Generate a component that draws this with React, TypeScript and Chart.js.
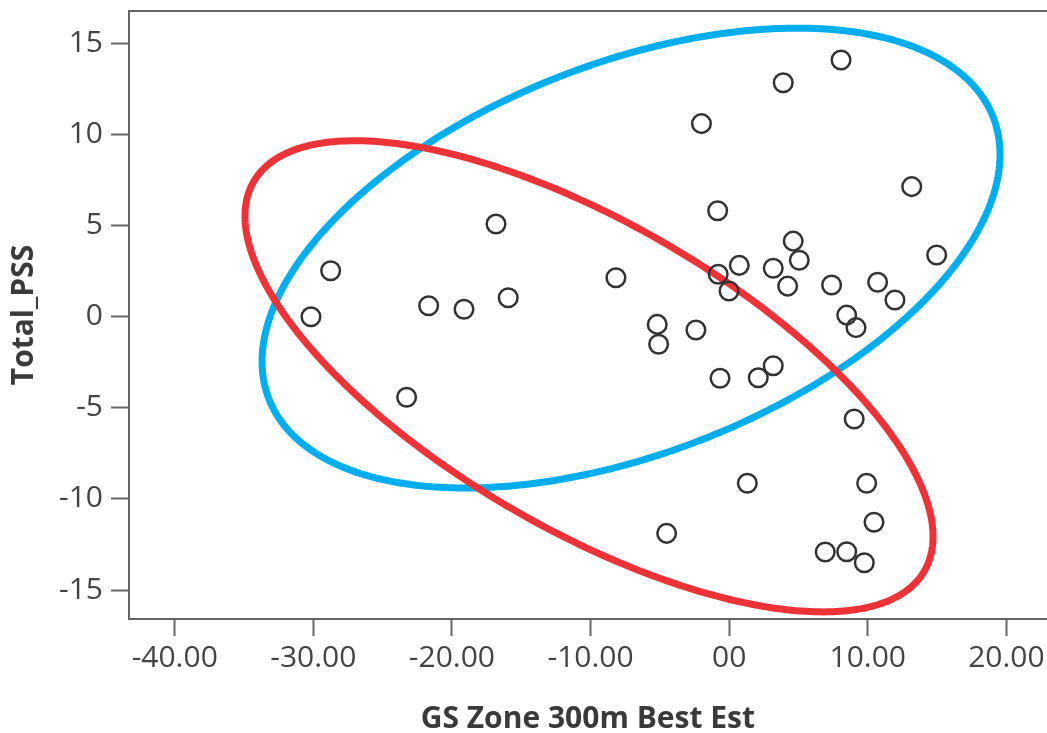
import { useEffect, useRef } from "react";
import { Chart, registerables } from "chart.js";

Chart.register(...registerables);

// ---- data ----
const gsZone: number[] = [
  -30.17, -28.75, -23.27, -21.68, -19.13, -16.82, -15.94, -8.17, -5.19, -5.09,
  -4.51, -2.4, -2.0, -0.83, -0.79, -0.66, -0.01, 0.73, 1.31, 2.1,
  3.18, 3.18, 3.9, 4.22, 4.62, 5.06, 6.93, 7.39, 8.07, 8.48,
  8.48, 9.02, 9.15, 9.75, 9.92, 10.45, 10.71, 11.96, 13.17, 14.97,
];
const totalPss: number[] = [
  0.0, 2.52, -4.42, 0.6, 0.41, 5.09, 1.04, 2.14, -0.42, -1.51,
  -11.89, -0.73, 10.6, 5.82, 2.33, -3.38, 1.41, 2.82, -9.14, -3.35,
  2.66, -2.69, 12.84, 1.68, 4.15, 3.1, -12.91, 1.74, 14.09, -12.9,
  0.09, -5.61, -0.6, -13.5, -9.14, -11.28, 1.89, 0.92, 7.14, 3.39,
];

const xTickValues: number[] = [-40, -30, -20, -10, 0, 10, 20];
const xTickLabels: string[] = ["-40.00", "-30.00", "-20.00", "-10.00", "00", "10.00", "20.00"];
const yTickValues: number[] = [-15, -10, -5, 0, 5, 10, 15];
const yTickLabels: string[] = ["-15", "-10", "-5", "0", "5", "10", "15"];

// ellipses (data units): centre, half extents, correlation
const ellipseCenterX: number[] = [-7.08, -10.11];
const ellipseCenterY: number[] = [3.22, -3.27];
const ellipseHalfX: number[] = [26.62, 24.82];
const ellipseHalfY: number[] = [12.62, 12.93];
const ellipseCorr: number[] = [0.45, -0.68];
const ellipseColors: string[] = ["#00AEEF", "#EE3338"];

const FONT = "'Open Sans', 'DejaVu Sans', sans-serif";

const ellipsePlugin = {
  id: "ellipses",
  beforeDatasetsDraw(chart: any) {
    const { ctx, chartArea, scales } = chart;
    const xs = scales.x;
    const ys = scales.y;
    ctx.save();
    // top frame line
    ctx.strokeStyle = "#666";
    ctx.lineWidth = 2;
    ctx.beginPath();
    ctx.moveTo(chartArea.left, chartArea.top);
    ctx.lineTo(chartArea.right, chartArea.top);
    ctx.stroke();
    ctx.lineWidth = 7;
    ctx.lineJoin = "round";
    for (let i = 0; i < ellipseCenterX.length; i++) {
      const cx = ellipseCenterX[i];
      const cy = ellipseCenterY[i];
      const rx = ellipseHalfX[i];
      const ry = ellipseHalfY[i];
      const r = ellipseCorr[i];
      const s = Math.sqrt(1 - r * r);
      const n = 360;
      ctx.beginPath();
      for (let k = 0; k <= n; k++) {
        const t = (k / n) * Math.PI * 2;
        const vx = cx + rx * Math.cos(t);
        const vy = cy + ry * (r * Math.cos(t) + s * Math.sin(t));
        const px = xs.getPixelForValue(vx);
        const py = ys.getPixelForValue(vy);
        if (k === 0) ctx.moveTo(px, py);
        else ctx.lineTo(px, py);
      }
      ctx.closePath();
      ctx.strokeStyle = ellipseColors[i];
      ctx.stroke();
    }
    ctx.restore();
  },
};

export default function App() {
  const canvasRef = useRef<HTMLCanvasElement | null>(null);

  useEffect(() => {
    document.body.style.margin = "0";
    const canvas = canvasRef.current;
    if (!canvas) return;
    const points = gsZone.map((x, i) => ({ x, y: totalPss[i] }));
    const chart = new Chart(canvas, {
      type: "scatter",
      data: {
        datasets: [
          {
            data: points,
            pointStyle: "circle",
            pointRadius: 9.3,
            pointBorderWidth: 2.5,
            pointBorderColor: "#333333",
            pointBackgroundColor: "rgba(0,0,0,0)",
          },
        ],
      },
      options: {
        responsive: false,
        animation: false,
        devicePixelRatio: 1,
        layout: { autoPadding: false, padding: { top: 11, left: 0, right: 0, bottom: 0 } },
        plugins: { legend: { display: false }, tooltip: { enabled: false } },
        scales: {
          x: {
            type: "linear",
            min: -43.32,
            max: 22.93,
            afterBuildTicks: (s: any) => {
              s.ticks = xTickValues.map((v) => ({ value: v }));
            },
            afterFit: (s: any) => {
              s.height = 114;
              s.paddingLeft = 0;
              s.paddingRight = 0;
              s.paddingTop = 0;
              s.paddingBottom = 0;
            },
            grid: { drawOnChartArea: false, drawTicks: true, tickLength: 17, tickColor: "#666", tickWidth: 2 },
            border: { display: true, color: "#666", width: 2 },
            ticks: {
              padding: 4,
              color: "#444",
              maxRotation: 0,
              autoSkip: false,
              font: { family: FONT, size: 30 },
              callback: (_v: any, i: number) => xTickLabels[i],
            },
            title: {
              display: true,
              text: "GS Zone 300m Best Est",
              color: "#3a3a3a",
              font: { family: FONT, size: 30, weight: "bold" },
              padding: { top: 0, bottom: -4 },
            },
          },
          y: {
            type: "linear",
            min: -16.59,
            max: 16.78,
            afterBuildTicks: (s: any) => {
              s.ticks = yTickValues.map((v) => ({ value: v }));
            },
            afterFit: (s: any) => {
              s.width = 128.7;
              s.paddingLeft = 0;
              s.paddingRight = 0;
              s.paddingTop = 0;
              s.paddingBottom = 0;
            },
            grid: { drawOnChartArea: false, drawTicks: true, tickLength: 17.7, tickColor: "#666", tickWidth: 2 },
            border: { display: true, color: "#666", width: 2 },
            ticks: {
              padding: 8,
              color: "#444",
              autoSkip: false,
              font: { family: FONT, size: 30 },
              callback: (_v: any, i: number) => yTickLabels[i],
            },
            title: {
              display: true,
              text: "Total_PSS",
              color: "#3a3a3a",
              font: { family: FONT, size: 30, weight: "bold" },
              padding: { top: 6, bottom: 0 },
            },
          },
        },
      },
      plugins: [ellipsePlugin],
    });
    return () => chart.destroy();
  }, []);

  return (
    <div style={{ width: 1047, height: 733 }}>
      <canvas ref={canvasRef} width={1047} height={733} style={{ display: "block" }} />
    </div>
  );
}
